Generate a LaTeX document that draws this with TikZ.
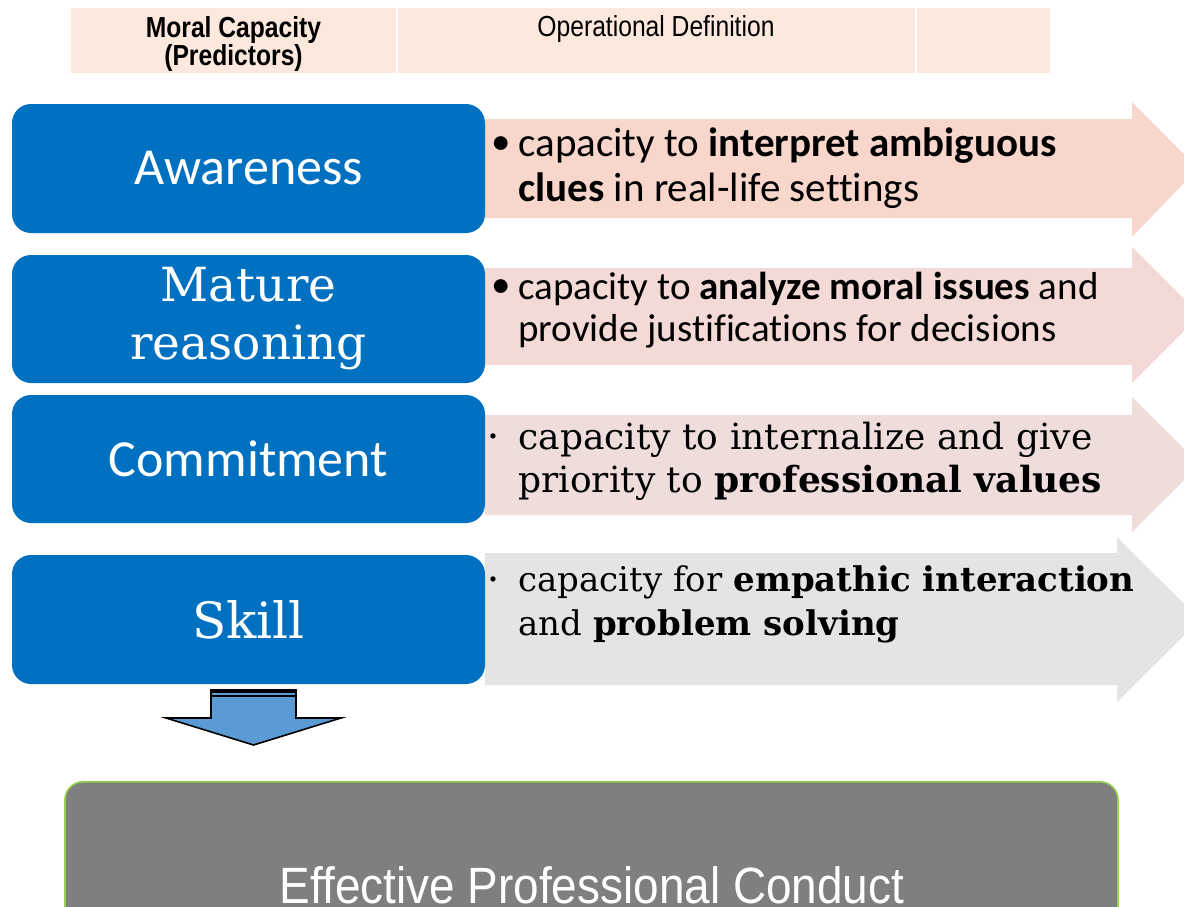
\documentclass[tikz,border=0pt]{standalone}
\usepackage{fontspec}
\newfontfamily\calib[Ligatures=NoCommon]{Carlito}
\newfontfamily\serifcap{DejaVu Serif}
\newfontfamily\narrowsans[FakeStretch=0.85]{Liberation Sans}
\newfontfamily\widenarrow[FakeStretch=0.9]{Liberation Sans}
\definecolor{capblue}{HTML}{0070C0}
\definecolor{headpeach}{HTML}{FCE8DC}
\definecolor{arrowA}{HTML}{F8D6CC}
\definecolor{arrowB}{HTML}{F4DAD6}
\definecolor{arrowC}{HTML}{EEDDDB}
\definecolor{arrowD}{HTML}{E4E4E4}
\definecolor{downblue}{HTML}{5B9BD5}
\definecolor{conductgray}{HTML}{7F7F7F}
\definecolor{conductgreen}{HTML}{92D050}
\begin{document}
\begin{tikzpicture}[x=0.5pt,y=-0.5pt,
  cap box/.style={fill=capblue,rounded corners=9.5pt,minimum width=236.5pt,minimum height=64.5pt,text=white,inner sep=0pt,align=center},
  head cell/.style={fill=headpeach,minimum height=32.5pt,inner sep=0pt},
  def text/.style={anchor=west,align=left,inner sep=0pt},
  dot/.style={inner sep=0pt}]
\useasboundingbox (0,0) rectangle (1184,906);
\clip (0,0) rectangle (1184,906);
% header
\begin{scope}[every node/.style={head cell}]
\node[minimum width=162.5pt] (h1) at (233.5,40.5) {};
\node[minimum width=258.5pt] (h2) at (656.5,40.5) {};
\node[minimum width=66.5pt] (h3) at (983.5,40.5) {};
\end{scope}
\node[inner sep=0pt,align=center,font=\narrowsans\bfseries\fontsize{14.5}{14}\selectfont] (captitle) at (233.5,43.5) {Moral Capacity\\(Predictors)};
\node[inner sep=0pt,font=\narrowsans\fontsize{14.5}{14}\selectfont] (optitle) at (656,29) {Operational Definition};
% arrows behind the definitions
\fill[arrowA] (485,119) -- (1132,119) -- (1132,102) -- (1198,168.5) -- (1132,237) -- (1132,218) -- (485,218) -- cycle;
\fill[arrowB] (485,268) -- (1132,268) -- (1132,247) -- (1200,315) -- (1132,383) -- (1132,365) -- (485,365) -- cycle;
\fill[arrowC] (485,415) -- (1132,415) -- (1132,397) -- (1200,464.5) -- (1132,532) -- (1132,515) -- (485,515) -- cycle;
\fill[arrowD] (485,553) -- (1117,553) -- (1117,537) -- (1200,619.5) -- (1117,702) -- (1117,685) -- (485,685) -- cycle;
% capacities
\node[cap box,font=\calib\fontsize{26}{30}\selectfont] (aware) at (248.5,168.5) {Awareness};
\node[cap box,minimum height=64pt,font=\serifcap\fontsize{23.5}{29}\selectfont] (mature) at (248.5,319) {Mature\\reasoning};
\node[cap box,minimum height=64pt,font=\calib\fontsize{26}{30}\selectfont] (commit) at (248.5,459) {Commitment};
\node[cap box,font=\serifcap\fontsize{25}{30}\selectfont] (skill) at (248.5,619.5) {Skill};
% definitions
\begin{scope}[every node/.style={def text}]
\node[font=\calib\fontsize{20.5}{22.5}\selectfont] (d1) at (518,168) {capacity to \textbf{interpret ambiguous}\\\textbf{clues} in real-life settings};
\node[font=\calib\fontsize{19.5}{21}\selectfont] (d2) at (518,310) {capacity to \textbf{analyze moral issues} and\\provide justifications for decisions};
\node[font=\serifcap\fontsize{18}{21.5}\selectfont] (d3) at (518,461) {capacity to internalize and give\\priority to \textbf{professional values}};
\node[font=\serifcap\fontsize{17}{22}\selectfont] (d4) at (518,604) {capacity for \textbf{empathic interaction}\\and \textbf{problem solving}};
\end{scope}
\node[dot,font=\calib\fontsize{19.5}{22}\selectfont] (b1) at (501,146) {•};
\node[dot,font=\calib\fontsize{19.5}{22}\selectfont] (b2) at (501,289) {•};
\node[dot,font=\fontsize{9}{9}\selectfont] (b3) at (493,437) {\textbullet};
\node[dot,font=\fontsize{9}{9}\selectfont] (b4) at (493,580) {\textbullet};
% down arrow
\draw[fill=downblue,line width=0.8pt,line join=miter] (211,690) -- (296,690) -- (296,718) -- (341,718) -- (253.5,745) -- (166,718) -- (211,718) -- cycle;
\draw[line width=1.5pt] (211,691) -- (296,691);
\draw[line width=0.6pt] (211,696) -- (296,696);
% outcome
\node[fill=conductgray,draw=conductgreen,line width=0.8pt,rounded corners=9pt,minimum width=526.5pt,minimum height=90pt,anchor=north,inner sep=0pt] (conduct) at (591.5,781) {};
\node[anchor=base,text=white,inner sep=0pt,font=\widenarrow\fontsize{25.5}{28}\selectfont] (conducttext) at (592,903) {Effective Professional Conduct};
\end{tikzpicture}
\end{document}
